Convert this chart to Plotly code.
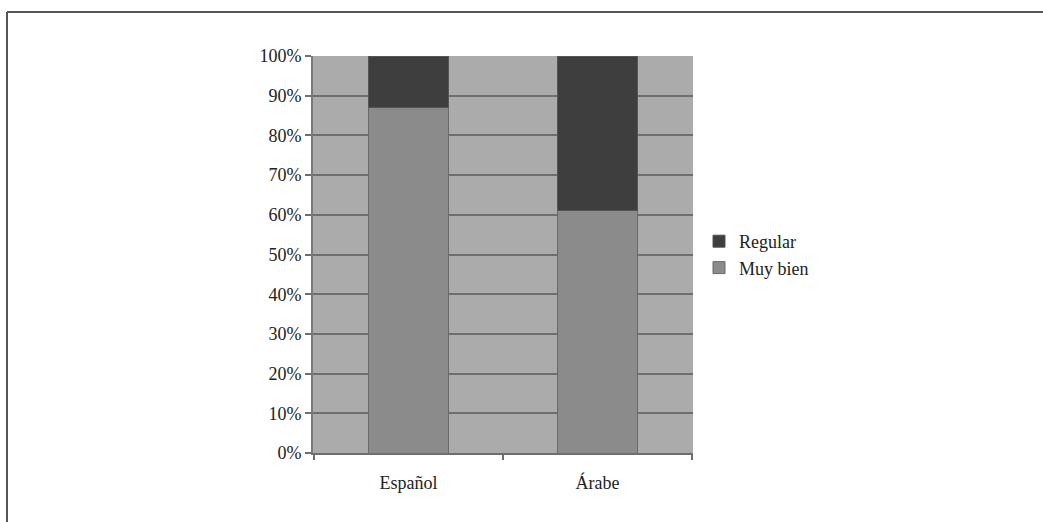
import plotly.graph_objects as go

categories = ["Español", "Árabe"]
muy_bien = [87, 61]
regular = [13, 39]
y_ticks = [0, 10, 20, 30, 40, 50, 60, 70, 80, 90, 100]
y_tick_labels = [f"{v}%" for v in y_ticks]

FONT = "Liberation Serif"
FSIZE = 18

fig = go.Figure()
fig.add_trace(go.Bar(
    name="Muy bien", x=categories, y=muy_bien,
    marker=dict(color="#8b8b8b", line=dict(color="#6a6a6a", width=1)),
))
fig.add_trace(go.Bar(
    name="Regular", x=categories, y=regular,
    marker=dict(color="#3e3e3e", line=dict(color="#555555", width=1)),
))

fig.update_layout(
    barmode="stack",
    bargap=0.58,
    width=1043, height=522,
    margin=dict(l=0, r=0, t=0, b=0, autoexpand=False),
    paper_bgcolor="white",
    plot_bgcolor="#ababab",
    font=dict(family=FONT, size=FSIZE, color="#222222"),
    xaxis=dict(
        domain=[313 / 1043, 693 / 1043],
        automargin=False,
        showgrid=False, zeroline=False,
        showline=True, linecolor="#6e6e6e", linewidth=2,
        ticks="", tickfont=dict(family=FONT, size=FSIZE),
        ticklabelstandoff=12,
    ),
    yaxis=dict(
        domain=[1 - 453 / 522, 1 - 56 / 522],
        automargin=False,
        range=[0, 100],
        tickvals=y_ticks, ticktext=y_tick_labels,
        showgrid=True, gridcolor="#6e6e6e", gridwidth=2,
        zeroline=False,
        showline=True, linecolor="#7a7a7a", linewidth=2,
        ticks="outside", ticklen=6, tickcolor="#6e6e6e", tickwidth=2,
        tickfont=dict(family=FONT, size=FSIZE),
    ),
    legend=dict(
        x=699 / 1043, y=1 - 223 / 522, xanchor="left", yanchor="top",
        traceorder="reversed", bgcolor="rgba(0,0,0,0)",
        font=dict(family=FONT, size=FSIZE),
        itemwidth=30,
    ),
    showlegend=True,
)

# Category boundary ticks on the x axis
for xv in [-0.5, 0.5, 1.5]:
    fig.add_shape(type="line", xref="x", yref="paper",
                  x0=xv, x1=xv, y0=1 - 453 / 522, y1=1 - 460 / 522,
                  line=dict(color="#6e6e6e", width=2))

# Frame lines along the top and left of the page
fig.add_shape(type="line", xref="paper", yref="paper",
              x0=7 / 1043, x1=1, y0=1 - 12 / 522, y1=1 - 12 / 522,
              line=dict(color="#555555", width=2))
fig.add_shape(type="line", xref="paper", yref="paper",
              x0=7 / 1043, x1=7 / 1043, y0=1 - 12 / 522, y1=0,
              line=dict(color="#555555", width=2))

fig.write_html("out.html")
